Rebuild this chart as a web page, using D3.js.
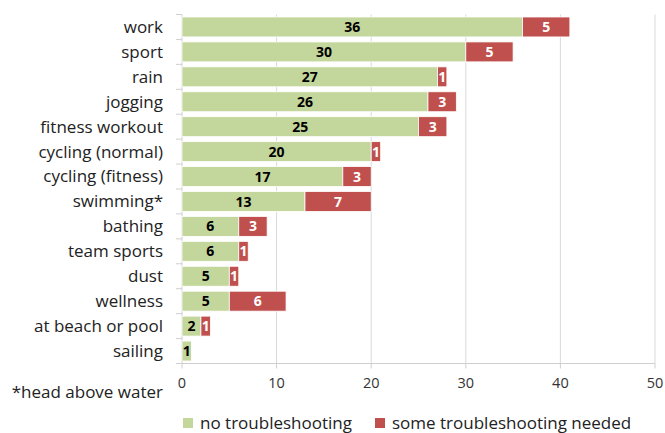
<!DOCTYPE html>
<html lang="en">
<head>
    <meta charset="UTF-8">
    <title>Troubleshooting by activity</title>
    <script src="https://d3js.org/d3.v7.min.js"></script>
    <style>
        body { margin: 0; background: #fff; }
        svg { display: block; font-family: "Open Sans", sans-serif; }
        .cat-label { font-size: 17px; fill: #222; }
        .tick-label { font-size: 14.5px; fill: #333; }
        .value { font-size: 14px; font-weight: bold; }
        .legend-text { font-size: 17px; fill: #222; }
    </style>
</head>
<body>
    <svg id="chart" width="665" height="433"></svg>

    <script>
        const categories = ["work", "sport", "rain", "jogging", "fitness workout", "cycling (normal)",
            "cycling (fitness)", "swimming*", "bathing", "team sports", "dust", "wellness",
            "at beach or pool", "sailing"];
        const noTroubleshooting = [36, 30, 27, 26, 25, 20, 17, 13, 6, 6, 5, 5, 2, 1];
        const someTroubleshooting = [5, 5, 1, 3, 3, 1, 3, 7, 3, 1, 1, 6, 1, 0];
        const xTicks = [0, 10, 20, 30, 40, 50];
        const seriesNames = ["no troubleshooting", "some troubleshooting needed"];
        const colors = ["#c3d69b", "#c0504d"];

        const margin = {top: 14.5, left: 182, right: 10};
        const plotW = 655 - margin.left;
        const plotH = 363.5 - margin.top;

        const svg = d3.select("#chart");
        const g = svg.append("g").attr("transform", `translate(${margin.left},${margin.top})`);

        const x = d3.scaleLinear().domain([0, 50]).range([0, plotW]);
        const y = d3.scaleBand().domain(categories).range([0, plotH]).paddingInner(0.2).paddingOuter(0.1);

        // grid lines
        g.selectAll(".grid").data(xTicks.slice(1)).join("line")
            .attr("x1", d => x(d)).attr("x2", d => x(d))
            .attr("y1", 0).attr("y2", plotH)
            .attr("stroke", "#d9d9d9").attr("stroke-width", 1);

        // x axis line and ticks
        g.append("line").attr("x1", 0).attr("x2", plotW).attr("y1", plotH).attr("y2", plotH)
            .attr("stroke", "#cfcfcf");
        g.selectAll(".xtick").data(xTicks).join("line")
            .attr("x1", d => x(d)).attr("x2", d => x(d))
            .attr("y1", plotH).attr("y2", plotH + 5)
            .attr("stroke", "#cfcfcf");
        g.selectAll(".tick-label").data(xTicks).join("text")
            .attr("class", "tick-label")
            .attr("x", d => x(d)).attr("y", plotH + 24)
            .attr("text-anchor", "middle")
            .text(d => d);

        // y axis line and category ticks at band boundaries
        g.append("line").attr("x1", 0).attr("x2", 0).attr("y1", 0).attr("y2", plotH)
            .attr("stroke", "#cfcfcf");
        const step = y.step();
        g.selectAll(".ytick").data(d3.range(categories.length + 1)).join("line")
            .attr("x1", -6).attr("x2", 0)
            .attr("y1", i => i * step).attr("y2", i => i * step)
            .attr("stroke", "#cfcfcf");

        g.selectAll(".cat-label").data(categories).join("text")
            .attr("class", "cat-label")
            .attr("x", -19)
            .attr("y", d => y(d) + y.bandwidth() / 2)
            .attr("dy", "0.35em")
            .attr("text-anchor", "end")
            .text(d => d);

        // stacked bars
        const rows = categories.map((c, i) => ({cat: c, a: noTroubleshooting[i], b: someTroubleshooting[i]}));

        g.selectAll(".bar-a").data(rows).join("rect")
            .attr("x", x(0))
            .attr("y", d => y(d.cat))
            .attr("width", d => x(d.a) - x(0))
            .attr("height", y.bandwidth())
            .attr("fill", colors[0])
            .attr("stroke", "#fff").attr("stroke-width", 0.8);

        g.selectAll(".bar-b").data(rows.filter(d => d.b > 0)).join("rect")
            .attr("x", d => x(d.a))
            .attr("y", d => y(d.cat))
            .attr("width", d => x(d.a + d.b) - x(d.a))
            .attr("height", y.bandwidth())
            .attr("fill", colors[1])
            .attr("stroke", "#fff").attr("stroke-width", 0.8);

        g.selectAll(".val-a").data(rows).join("text")
            .attr("class", "value")
            .attr("x", d => x(d.a / 2))
            .attr("y", d => y(d.cat) + y.bandwidth() / 2)
            .attr("dy", "0.36em")
            .attr("text-anchor", "middle")
            .attr("fill", "#000")
            .text(d => d.a);

        g.selectAll(".val-b").data(rows.filter(d => d.b > 0)).join("text")
            .attr("class", "value")
            .attr("x", d => x(d.a + d.b / 2))
            .attr("y", d => y(d.cat) + y.bandwidth() / 2)
            .attr("dy", "0.36em")
            .attr("text-anchor", "middle")
            .attr("fill", "#fff")
            .text(d => d.b);

        // footnote
        svg.append("text").attr("class", "cat-label")
            .attr("x", 163).attr("y", 398)
            .attr("text-anchor", "end")
            .text("*head above water");

        // legend
        const legendX = [183, 375];
        seriesNames.forEach((name, i) => {
            svg.append("rect")
                .attr("x", legendX[i]).attr("y", 418)
                .attr("width", 10).attr("height", 10)
                .attr("fill", colors[i]);
            svg.append("text").attr("class", "legend-text")
                .attr("x", legendX[i] + 17).attr("y", 429)
                .text(name);
        });
    </script>
</body>
</html>
